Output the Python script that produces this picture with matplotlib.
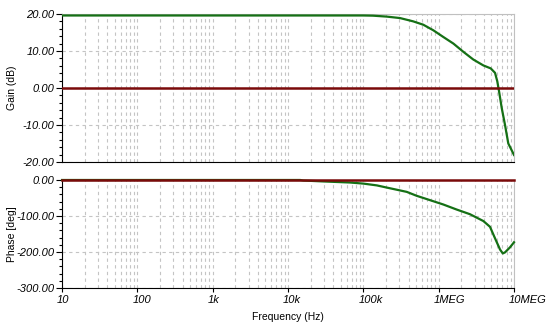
import numpy as np
import matplotlib
matplotlib.use('Agg')
import matplotlib.pyplot as plt
import matplotlib.transforms as mtransforms
from matplotlib.ticker import FixedLocator, MultipleLocator, FormatStrFormatter


# ---- data (AC sweep, Bode plot) ----
gain_freq = [10, 1e3, 1e4, 5e4, 1e5, 1.34e5, 2.04e5, 3.07e5, 4.61e5, 6.25e5, 8.49e5,
             1.15e6, 1.57e6, 2.12e6, 2.88e6, 3.92e6, 4.91e6, 5.6e6, 6.0e6, 6.33e6,
             6.87e6, 7.6e6, 8.4e6, 9.3e6, 1e7]
gain_db = [19.6, 19.6, 19.6, 19.6, 19.6, 19.55, 19.3, 18.9, 18.0, 17.1, 15.6,
           13.8, 12.0, 9.8, 7.7, 6.1, 5.3, 4.1, 1.8, -0.9,
           -5.4, -10.0, -15.0, -16.8, -18.1]

phase_freq = [10, 1e3, 1.45e4, 1.6e4, 2.94e4, 6.65e4, 1e5, 1.51e5, 2.04e5, 3.77e5, 5.12e5,
              7.68e5, 1.15e6, 1.73e6, 2.6e6, 3.92e6, 4.8e6, 5.6e6, 6.52e6, 7.1e6,
              7.6e6, 8.85e6, 1e7]
phase_deg = [0, 0, 0, -1.5, -4, -7, -10, -15, -21, -33, -44,
             -56, -68, -82, -95, -114, -130, -162, -193, -204,
             -201, -187, -173]

freq_ticks = [10, 100, 1e3, 1e4, 1e5, 1e6, 1e7]
freq_labels = ['10', '100', '1k', '10k', '100k', '1MEG', '10MEG']

GREEN = '#157015'
DARKRED = '#7a0a0a'
GRIDC = '#c4c4c4'

plt.rcParams['font.family'] = ['Liberation Sans', 'DejaVu Sans']
plt.rcParams['font.style'] = 'italic'      # tick labels are italic in the original
plt.rcParams['axes.unicode_minus'] = False

fig = plt.figure(figsize=(5.46, 3.35), dpi=100)
ax_g = fig.add_axes([0.1136, 0.5164, 0.8278, 0.4418])
ax_p = fig.add_axes([0.1136, 0.1403, 0.8278, 0.3224])

minor_x = [m * 10.0 ** d for d in range(1, 7) for m in range(2, 10)]


def style_axes(ax):
    ax.set_xscale('log')
    ax.set_xlim(10, 1e7)
    ax.xaxis.set_major_locator(FixedLocator(freq_ticks))
    ax.xaxis.set_minor_locator(FixedLocator(minor_x))
    ax.yaxis.set_major_formatter(FormatStrFormatter('%.2f'))
    ax.grid(True, which='both', axis='x', color=GRIDC, ls=(0, (3, 3)), lw=0.8)
    ax.grid(True, which='major', axis='y', color=GRIDC, ls=(0, (3, 3)), lw=0.8)
    ax.set_axisbelow(True)
    for s in ('top', 'right'):
        ax.spines[s].set_color('#c0c0c0')
    for s in ('left', 'bottom'):
        ax.spines[s].set_color('black')
    ax.tick_params(axis='y', which='major', length=4, width=0.8, pad=1.5,
                   labelsize=8)
    ax.tick_params(axis='y', which='minor', length=2.5, width=0.8)


# ---- gain ----
style_axes(ax_g)
ax_g.set_ylim(-20, 20)
ax_g.yaxis.set_major_locator(MultipleLocator(10))
ax_g.yaxis.set_minor_locator(MultipleLocator(2))
ax_g.tick_params(axis='x', which='both', length=0, labelbottom=False)
ax_g.plot(gain_freq, gain_db, color=GREEN, lw=1.6, zorder=3)
ax_g.axhline(0, color=DARKRED, lw=1.8, zorder=4)
ax_g.set_ylabel('Gain (dB)', fontsize=7.5, fontstyle='normal')

# ---- phase ----
style_axes(ax_p)
ax_p.set_ylim(-300, 0)
ax_p.yaxis.set_major_locator(MultipleLocator(100))
ax_p.yaxis.set_minor_locator(MultipleLocator(20))
ax_p.plot(phase_freq, phase_deg, color=GREEN, lw=1.6, zorder=3, clip_on=False)
ax_p.axhline(0, color=DARKRED, lw=1.8, zorder=4, clip_on=False)
ax_p.set_ylabel('Phase [deg]', fontsize=7.5, fontstyle='normal')
ax_p.set_xticklabels(freq_labels)
ax_p.tick_params(axis='x', which='major', length=3, width=0.8, pad=2, labelsize=8)
ax_p.tick_params(axis='x', which='minor', length=0)
ax_p.set_xlabel('Frequency (Hz)', fontsize=7.5, fontstyle='normal', labelpad=5)

# line the two y-labels up at the same x
ax_g.yaxis.set_label_coords(-0.1, 0.5)
ax_p.yaxis.set_label_coords(-0.1, 0.5)

# frequency labels start a few pixels left of their tick, like the original
fig.canvas.draw()
shift = mtransforms.ScaledTranslation(-0.05, 0, fig.dpi_scale_trans)
for tick in ax_p.xaxis.get_major_ticks():
    tick.label1.set_horizontalalignment('left')
    tick.label1.set_transform(tick.label1.get_transform() + shift)

fig.savefig('out.png', dpi=100)
